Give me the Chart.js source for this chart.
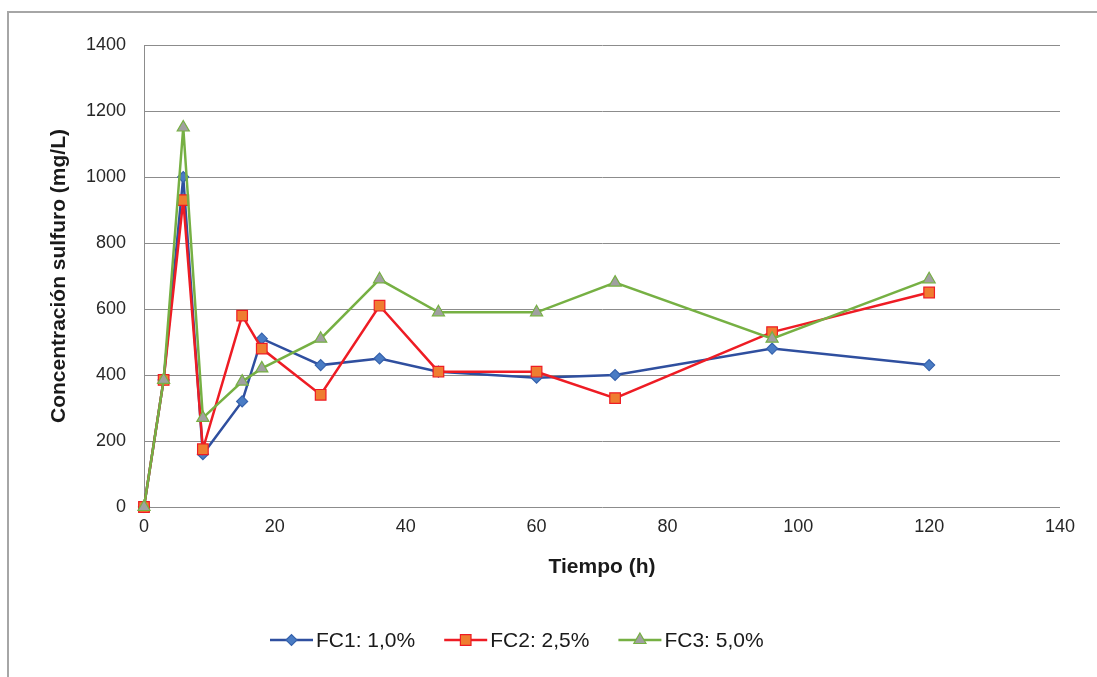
<!DOCTYPE html>
<html>
<head>
<meta charset="utf-8">
<title>Concentración sulfuro</title>
<script src="https://cdn.jsdelivr.net/npm/chart.js@4.4.1/dist/chart.umd.min.js"></script>
<style>
    body { margin: 0; background: #fff; }
    #wrap { position: relative; width: 1097px; height: 677px; }
    #frame {
        position: absolute; left: 7px; top: 11px; right: -2px; bottom: -2px;
        border-left: 2px solid #a6a6a6; border-top: 2px solid #a6a6a6;
        pointer-events: none;
    }
</style>
</head>
<body>
<div id="wrap">
    <canvas id="sulfuroChart" width="1097" height="677"></canvas>
    <div id="frame"></div>
</div>
<script>
// Tiempo de muestreo (h) y concentraciones medidas (mg/L)
const tiempo = [0, 3, 6, 9, 15, 18, 27, 36, 45, 60, 72, 96, 120];
const fc1 = [0, 385, 1000, 160, 320, 510, 430, 450, 410, 392, 400, 480, 430];
const fc2 = [0, 385, 930, 175, 580, 480, 340, 610, 410, 410, 330, 530, 650];
const fc3 = [0, 385, 1150, 270, 380, 420, 510, 690, 590, 590, 680, 510, 690];
const seriesNames = ["FC1: 1,0%", "FC2: 2,5%", "FC3: 5,0%"];
const xTicks = [0, 20, 40, 60, 80, 100, 120, 140];
const yTicks = [0, 200, 400, 600, 800, 1000, 1200, 1400];

const FONT = "'Liberation Sans', Arial, sans-serif";
const toPoints = (vals) => tiempo.map((t, i) => ({ x: t, y: vals[i] }));

// Leyenda dibujada a mano: línea con marcador en medio + texto
const legendPlugin = {
    id: "lineLegend",
    afterDraw(chart) {
        const c = chart.ctx;
        const y = 640;
        let x = 270;
        c.save();
        c.font = "21px " + FONT;
        c.textBaseline = "middle";
        chart.data.datasets.forEach((ds, i) => {
            c.strokeStyle = ds.borderColor;
            c.lineWidth = 2.5;
            c.beginPath();
            c.moveTo(x, y);
            c.lineTo(x + 43, y);
            c.stroke();
            c.fillStyle = ds.pointBackgroundColor;
            c.strokeStyle = ds.pointBorderColor;
            c.lineWidth = ds.pointBorderWidth;
            Chart.helpers.drawPoint(c, {
                pointStyle: ds.pointStyle,
                radius: ds.pointRadius,
                rotation: 0,
                borderWidth: ds.pointBorderWidth
            }, x + 21.5, y);
            c.fillStyle = "#1a1a1a";
            c.fillText(seriesNames[i], x + 46, y + 1);
            x += 46 + c.measureText(seriesNames[i]).width + 29;
        });
        c.restore();
    }
};

const makeSet = (label, vals, line, fill, border, style, radius, order) => ({
    label: label,
    data: toPoints(vals),
    borderColor: line,
    backgroundColor: fill,
    pointBackgroundColor: fill,
    pointBorderColor: border,
    pointBorderWidth: 1.2,
    pointStyle: style,
    pointRadius: radius,
    borderWidth: 2.5,
    tension: 0,
    clip: false,
    order: order
});

const datasets = [
    makeSet(seriesNames[0], fc1, "#2f4f9f", "#4a7cc4", "#3562ad", "rectRot", 5.5, 3),
    makeSet(seriesNames[1], fc2, "#ee1c24", "#ef7d30", "#ee1c24", "rect", 7.5, 2),
    makeSet(seriesNames[2], fc3, "#76b043", "#a0a0a0", "#76b043", "triangle", 7, 1)
];

const ctx = document.getElementById("sulfuroChart").getContext("2d");

new Chart(ctx, {
    type: "line",
    data: { datasets: datasets },
    options: {
        responsive: false,
        animation: false,
        layout: { padding: { top: 45, right: 37, bottom: 90, left: 0 } },
        plugins: {
            legend: { display: false },
            tooltip: { enabled: false }
        },
        scales: {
            x: {
                type: "linear",
                min: 0,
                max: 140,
                afterBuildTicks: (scale) => { scale.ticks = xTicks.map(v => ({ value: v })); },
                afterFit: (scale) => { scale.height = 80; },
                grid: { display: false, drawTicks: false },
                border: { display: false },
                ticks: {
                    padding: 9,
                    color: "#262626",
                    font: { family: FONT, size: 18 },
                    callback: (v) => String(v)
                },
                title: {
                    display: true,
                    text: "Tiempo (h)",
                    color: "#1a1a1a",
                    padding: { top: 0, bottom: 7 },
                    font: { family: FONT, size: 21, weight: "bold" }
                }
            },
            y: {
                min: 0,
                max: 1400,
                afterBuildTicks: (scale) => { scale.ticks = yTicks.map(v => ({ value: v })); },
                afterFit: (scale) => { scale.width = 144; },
                grid: { color: "#8c8c8c", lineWidth: 1, drawTicks: false },
                border: { display: true, color: "#8c8c8c", width: 1 },
                ticks: {
                    padding: 18,
                    color: "#262626",
                    font: { family: FONT, size: 18 },
                    callback: (v) => String(v)
                },
                title: {
                    display: true,
                    text: "Concentración sulfuro (mg/L)",
                    color: "#1a1a1a",
                    padding: { top: 47, bottom: 0 },
                    font: { family: FONT, size: 21, weight: "bold" }
                }
            }
        }
    },
    plugins: [legendPlugin]
});
</script>
</body>
</html>
